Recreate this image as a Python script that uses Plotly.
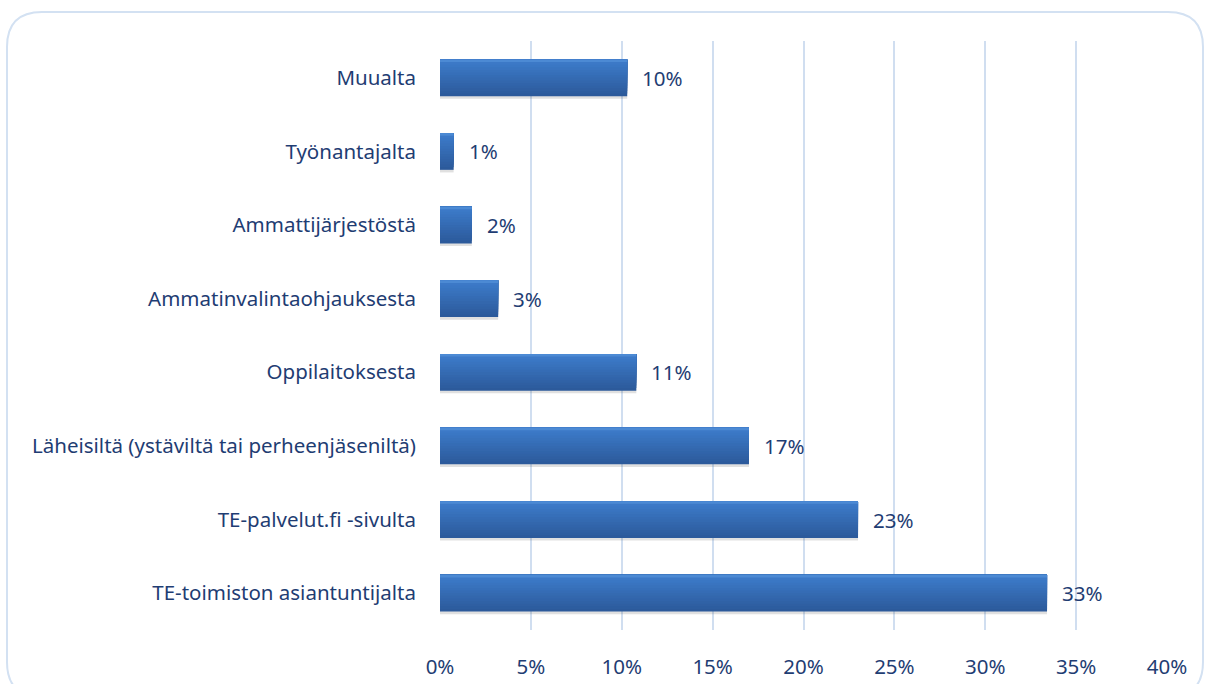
import plotly.graph_objects as go

# Data (top to bottom as shown)
categories = [
    "Muualta",
    "Työnantajalta",
    "Ammattijärjestöstä",
    "Ammatinvalintaohjauksesta",
    "Oppilaitoksesta",
    "Läheisiltä (ystäviltä tai perheenjäseniltä)",
    "TE-palvelut.fi -sivulta",
    "TE-toimiston asiantuntijalta",
]
values = [10.3, 0.75, 1.75, 3.2, 10.8, 17.0, 23.0, 33.4]
value_labels = ["10%", "1%", "2%", "3%", "11%", "17%", "23%", "33%"]
tick_vals = [0, 5, 10, 15, 20, 25, 30, 35, 40]
tick_text = ["0%", "5%", "10%", "15%", "20%", "25%", "30%", "35%", "40%"]

# plotly draws first category at bottom -> reverse
cats = categories[::-1]
vals = values[::-1]
labs = value_labels[::-1]

W, H = 1206, 684
L, R, T, B = 440, 39, 41, 54
TXT = "#1F3D73"
FONT = "Noto Sans"
FS = 20.5

fig = go.Figure()

# shadow
fig.add_trace(go.Bar(
    y=cats, x=vals, orientation="h", width=0.5, offset=-0.285,
    marker=dict(color="rgba(60,60,60,0.16)", line=dict(width=0)),
    hoverinfo="skip", showlegend=False,
))

# gradient emulation with overlapping stripes (each covers to the top)
bot = (0x2C, 0x5A, 0x9B)
top = (0x3D, 0x7C, 0xCB)
n = 14
bw = 0.5
sw = bw / n
for i in range(n):
    t = i / (n - 1)
    c = tuple(int(round(bot[k] + (top[k] - bot[k]) * t)) for k in range(3))
    if i == n - 1:
        c = (0x4C, 0x8A, 0xD4)
    fig.add_trace(go.Bar(
        y=cats, x=vals, orientation="h",
        width=bw - i * sw, offset=-bw / 2 + i * sw,
        marker=dict(color="rgb(%d,%d,%d)" % c, line=dict(width=0)),
        hoverinfo="skip", showlegend=False,
    ))

for c, v, lab in zip(cats, vals, labs):
    fig.add_annotation(x=v, y=c, text=lab, showarrow=False, xanchor="left",
                       xshift=13, font=dict(family=FONT, size=FS, color=TXT))

# rounded border
def px_to_paper(x, y):
    return (x - L) / (W - L - R), (H - B - y) / (H - T - B)

x0, y0, x1, y1, r = 7, 12, 1203, 697, 35
pts = [
    ("M", [(x0 + r, y0)]),
    ("L", [(x1 - r, y0)]),
    ("Q", [(x1, y0), (x1, y0 + r)]),
    ("L", [(x1, y1 - r)]),
    ("Q", [(x1, y1), (x1 - r, y1)]),
    ("L", [(x0 + r, y1)]),
    ("Q", [(x0, y1), (x0, y1 - r)]),
    ("L", [(x0, y0 + r)]),
    ("Q", [(x0, y0), (x0 + r, y0)]),
]
path = ""
for cmd, ps in pts:
    path += cmd + " " + " ".join("%.5f,%.5f" % px_to_paper(*p) for p in ps) + " "
path += "Z"
fig.add_shape(type="path", path=path, xref="paper", yref="paper",
              line=dict(color="#D3E1F2", width=2), layer="below")

fig.update_layout(
    width=W, height=H,
    margin=dict(l=L, r=R, t=T, b=B, autoexpand=False),
    paper_bgcolor="white", plot_bgcolor="white",
    barmode="overlay",
    showlegend=False,
    font=dict(family=FONT, size=FS, color=TXT),
    xaxis=dict(
        range=[0, 40], tickvals=tick_vals, ticktext=tick_text,
        showgrid=True, gridcolor="#D0DEF0", gridwidth=2,
        zeroline=False, showline=False, ticks="",
        ticklabelstandoff=22, automargin=False,
        tickfont=dict(family=FONT, size=FS, color=TXT),
        fixedrange=True,
    ),
    yaxis=dict(
        categoryorder="array", categoryarray=cats,
        showgrid=False, zeroline=False, showline=False, ticks="",
        ticklabelstandoff=23, automargin=False,
        tickfont=dict(family=FONT, size=FS, color=TXT),
        fixedrange=True,
    ),
)

fig.write_html("out.html", config={"displayModeBar": False},
               post_script="document.body.style.margin='0';document.body.style.padding='0';")
